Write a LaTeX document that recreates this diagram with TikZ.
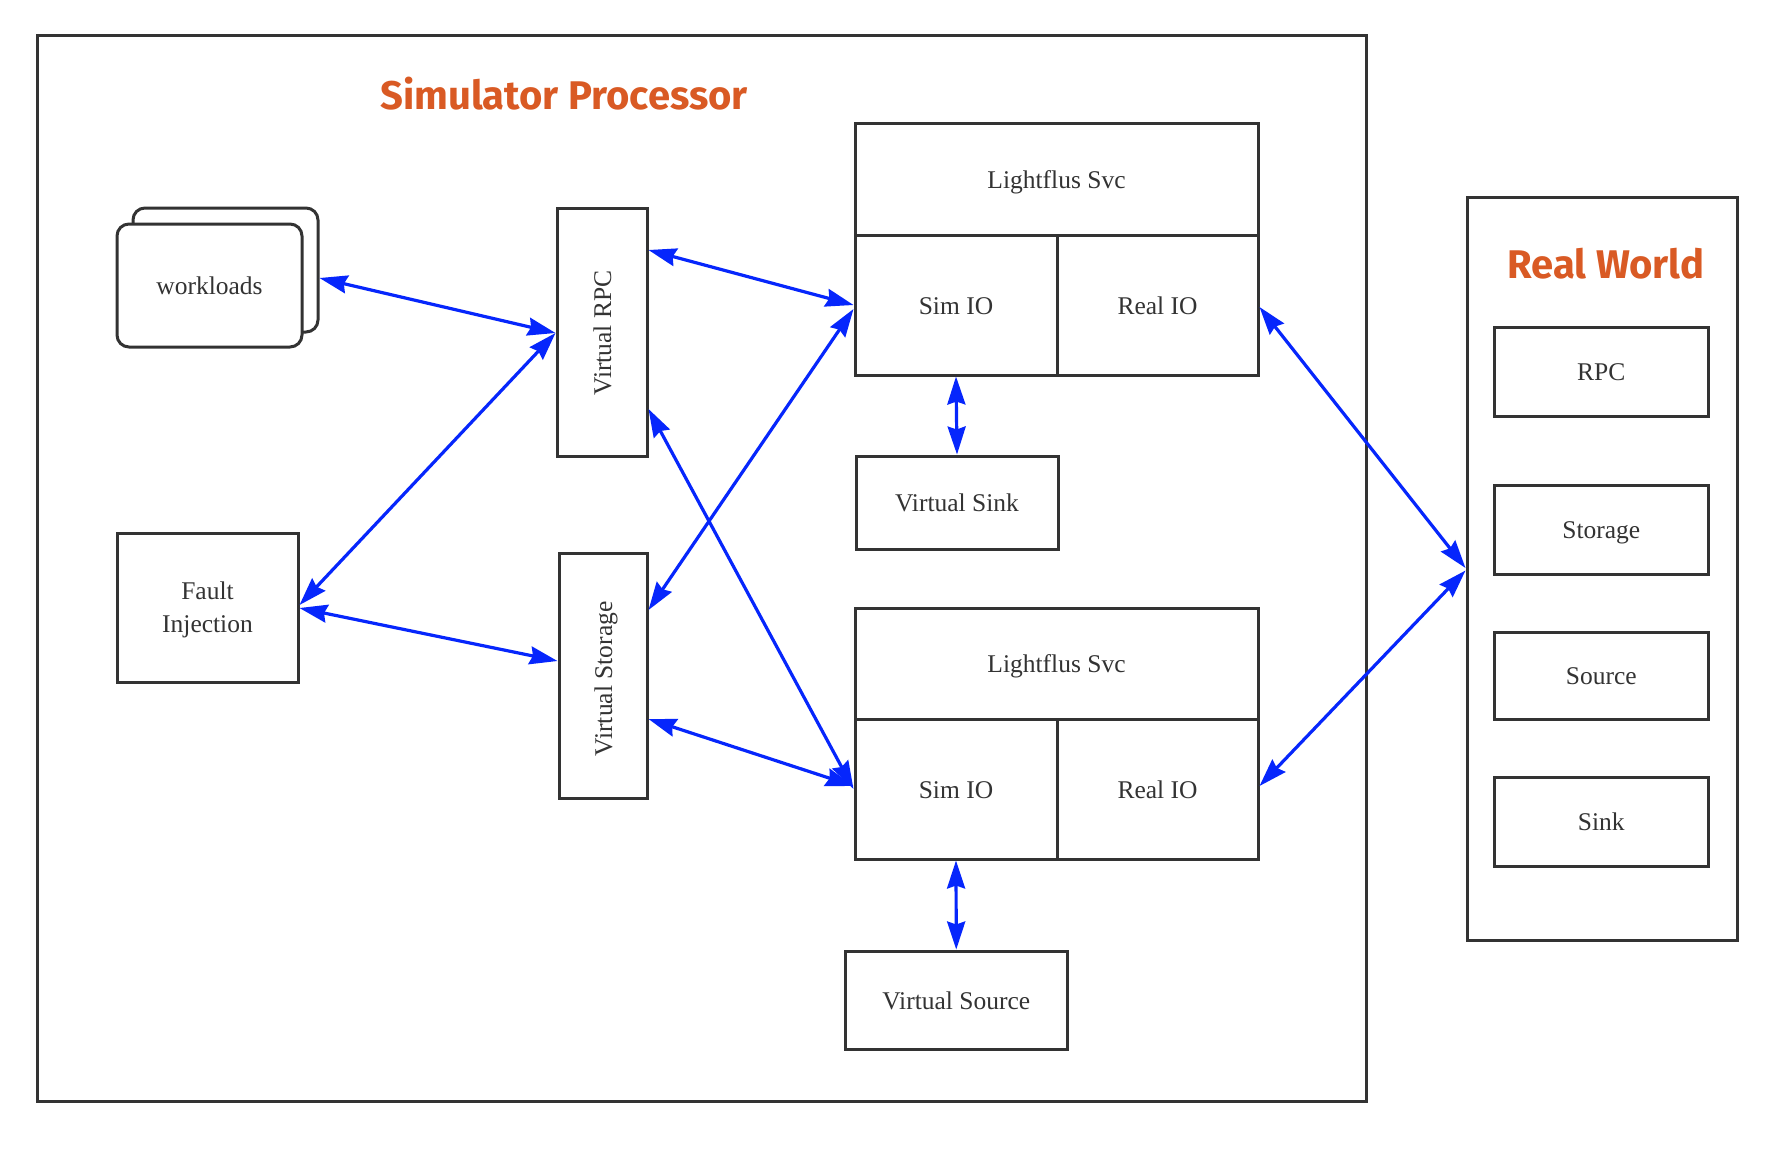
\documentclass[tikz,border=0pt]{standalone}
\usepackage{fontspec}
\setmainfont{Liberation Serif}
\newfontfamily\titlefont{Fira Sans}
\usetikzlibrary{arrows.meta,calc}
\definecolor{boxc}{HTML}{333333}
\definecolor{arrc}{HTML}{0626FC}
\definecolor{titc}{HTML}{D95A24}
\begin{document}
\begin{tikzpicture}[x=1pt,y=-1pt,
  box/.style={draw=boxc,line width=3pt,rectangle,inner sep=0pt,text=boxc,
    font=\fontsize{25.5}{33}\selectfont,align=center},
  tx/.style={text height=18pt,text depth=0pt},
  rbox/.style={box,rounded corners=12pt,fill=white},
  conn/.style={draw=arrc,line width=3.2pt,
    {Stealth[length=28pt,width=18pt,inset=3pt]}-{Stealth[length=28pt,width=18pt,inset=3pt]}},
  ttl/.style={text=titc,font=\titlefont\bfseries\fontsize{40}{44}\selectfont}]
\useasboundingbox (0,0) rectangle (1782,1154);
\fill[white] (0,0) rectangle (1782,1154);

% outer containers
\node[box,minimum width=1328.5pt,minimum height=1065.8pt] (simproc) at (701.75,568.1) {};
\node[ttl] (simtitle) at (564,93.2) {Simulator Processor};
\node[box,minimum width=270pt,minimum height=743pt] (rw) at (1602,568.5) {};
\node[ttl] (rwtitle) at (1606,264) {Real World};

% workloads
\node[rbox,minimum width=185pt,minimum height=124pt] (wlback) at (225.5,270) {};
\node[rbox,tx,minimum width=185pt,minimum height=123pt] (wl) at (209.5,285.5) {workloads};

% virtual boxes
\node[box,minimum width=90pt,minimum height=248pt] (vrpc) at (602,332) {};
\node[rotate=90,tx,text=boxc,font=\fontsize{25.5}{33}\selectfont] (vrpct) at (602,333) {Virtual RPC};
\node[box,minimum width=88pt,minimum height=245pt] (vstor) at (603,675.5) {};
\node[rotate=90,tx,text=boxc,font=\fontsize{25.5}{33}\selectfont] (vstort) at (603,679) {Virtual Storage};
\node[box,text depth=0pt,minimum width=181pt,minimum height=149pt] (fault) at (207.5,607.5) {Fault\\Injection};

% Lightflus 1
\node[box,tx,minimum width=403pt,minimum height=112pt] (ls1) at (1056.5,179) {Lightflus Svc};
\node[box,tx,minimum width=202pt,minimum height=140pt] (sim1) at (956,305) {Sim IO};
\node[box,tx,minimum width=201pt,minimum height=140pt] (real1) at (1157.5,305) {Real IO};
\node[box,tx,minimum width=202pt,minimum height=93pt] (vsink) at (957,502.5) {Virtual Sink};

% Lightflus 2
\node[box,tx,minimum width=403pt,minimum height=111pt] (ls2) at (1056.5,663.5) {Lightflus Svc};
\node[box,tx,minimum width=202pt,minimum height=140pt] (sim2) at (956,789) {Sim IO};
\node[box,tx,minimum width=201pt,minimum height=140pt] (real2) at (1157.5,789) {Real IO};
\node[box,tx,minimum width=221.5pt,minimum height=98pt] (vsrc) at (956.25,1000) {Virtual Source};

% real world items
\node[box,tx,minimum width=213.5pt,minimum height=89pt] (rpc) at (1601.25,371.5) {RPC};
\node[box,tx,minimum width=213.5pt,minimum height=89pt] (storage) at (1601.25,529.5) {Storage};
\node[box,tx,minimum width=213.5pt,minimum height=87pt] (source) at (1601.25,675.5) {Source};
\node[box,tx,minimum width=213.5pt,minimum height=89pt] (sink) at (1601.25,821.5) {Sink};

% connectors
\coordinate (vrpcin) at ([yshift=-1pt]vrpc.west);
\draw[conn] ([yshift=-8pt]wlback.east) -- (vrpcin);
\draw[conn] ([yshift=2.5pt]fault.east) -- (vrpcin);
\draw[conn] ([yshift=-0.5pt]fault.east) -- ([yshift=14.5pt]vstor.west);
\draw[conn] ([yshift=82pt]vrpc.east) -- (sim1.west);
\draw[conn] ([yshift=65.5pt]vstor.east) -- ([yshift=-4pt]sim1.west);
\draw[conn] ([yshift=-77pt]vrpc.east) -- (sim2.west);
\draw[conn] ([yshift=-43.5pt]vstor.east) -- ([yshift=3pt]sim2.west);
\draw[conn] (sim1.south) -- (vsink.north);
\draw[conn] (sim2.south) -- (vsrc.north);
\draw[conn] ([yshift=-2pt]real1.east) -- ([yshift=0.5pt]rw.west);
\draw[conn] ([yshift=3pt]real2.east) -- ([yshift=-2pt]rw.west);
\end{tikzpicture}
\end{document}
